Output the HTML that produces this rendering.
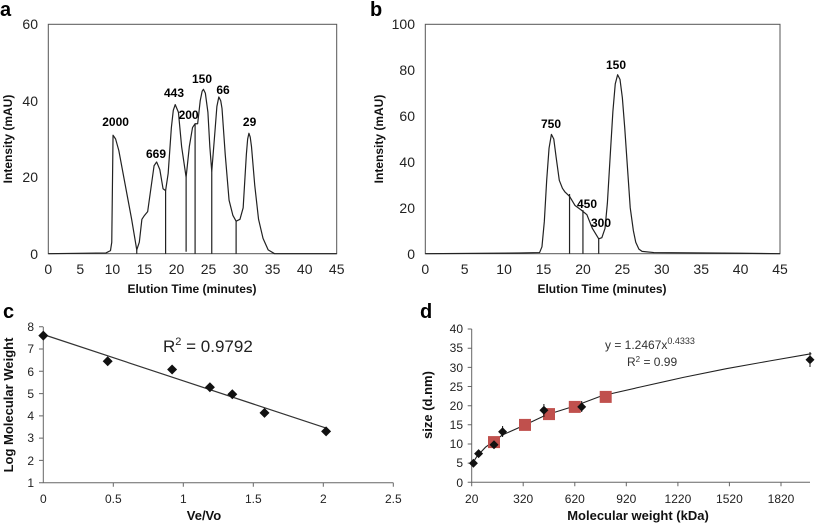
<!DOCTYPE html>
<html><head><meta charset="utf-8"><style>
body{margin:0;background:#fff}
svg{display:block;font-family:"Liberation Sans",sans-serif}
.t{font-size:14px;fill:#222}
.s{font-size:12px;fill:#222}
.b{font-weight:bold;font-size:12px;fill:#111}
.p{font-weight:bold;font-size:12px;fill:#000}
.L{font-weight:bold;font-size:20px;fill:#000}
.ns{vector-effect:non-scaling-stroke}
</style></head><body>
<svg width="817" height="524" viewBox="0 0 817 524">
<!-- Panel a -->
<text x="0" y="16" class="L">a</text>
<rect x="48.3" y="24.3" width="288.4" height="229.4" fill="none" stroke="#555" stroke-width="1"/>
<g class="t" text-anchor="end">
<text x="38" y="29">60</text><text x="38" y="106">40</text><text x="38" y="182">20</text><text x="38" y="259">0</text></g>
<g class="t" text-anchor="middle">
<text x="48.3" y="274">0</text><text x="80.3" y="274">5</text><text x="112.4" y="274">10</text><text x="144.4" y="274">15</text><text x="176.5" y="274">20</text><text x="208.5" y="274">25</text><text x="240.6" y="274">30</text><text x="272.6" y="274">35</text><text x="304.7" y="274">40</text><text x="336.7" y="274">45</text></g>
<text x="192" y="293" class="b" text-anchor="middle">Elution Time (minutes)</text>
<text transform="translate(12,139) rotate(-90)" class="b" text-anchor="middle">Intensity (mAU)</text>
<g transform="translate(48.3,253.7) scale(6.41,-3.823)" fill="none" stroke="#222" stroke-linejoin="round">
<polyline class="ns" stroke-width="1.2" points="0,0 9,0.2 9.7,0.8 9.9,3 10.1,31 10.5,30 11,27 12,18 13,9 13.8,1 14.2,3 14.6,9 15,10 15.5,11 16,17 16.5,23 16.9,24 17.4,22 17.9,17 18.3,16.5 18.7,21 19.2,33 19.5,37.5 19.8,39 20.3,37 20.8,28 21.5,20 22,28 22.5,33 22.9,34 23.3,34 23.7,40 24,42.5 24.2,43 24.5,42 24.9,37 25.2,28 25.5,21.5 26,32 26.3,38.5 26.6,41 26.9,40 27.1,38 27.6,26 28.2,14 28.8,10 29.3,8.5 29.9,9 30.4,12 30.9,26 31.1,30 31.3,31.5 31.5,30.5 31.7,28 32.2,18 32.8,9 33.5,4 34.3,1 35.3,0 45,0"/>
<path class="ns" stroke-width="1.2" d="M13.8,0V1M18.3,0V16.5M21.5,0.5V20M22.9,0V34M25.5,0V21.5M29.3,0V8.5"/>
</g>
<g class="p" text-anchor="middle">
<text x="115.6" y="126">2000</text><text x="156" y="158">669</text><text x="174" y="97">443</text><text x="188.6" y="119">200</text><text x="202" y="83">150</text><text x="223" y="94">66</text><text x="249.6" y="126">29</text></g>

<!-- Panel b -->
<text x="370" y="16" class="L">b</text>
<rect x="425.3" y="24.3" width="354.7" height="229.4" fill="none" stroke="#555" stroke-width="1"/>
<g class="t" text-anchor="end">
<text x="415" y="29">100</text><text x="415" y="75">80</text><text x="415" y="121">60</text><text x="415" y="167">40</text><text x="415" y="213">20</text><text x="415" y="259">0</text></g>
<g class="t" text-anchor="middle">
<text x="425.3" y="274">0</text><text x="464.7" y="274">5</text><text x="504.1" y="274">10</text><text x="543.5" y="274">15</text><text x="583" y="274">20</text><text x="622.4" y="274">25</text><text x="661.8" y="274">30</text><text x="701.2" y="274">35</text><text x="740.6" y="274">40</text><text x="780" y="274">45</text></g>
<text x="602" y="293" class="b" text-anchor="middle">Elution Time (minutes)</text>
<text transform="translate(383,139) rotate(-90)" class="b" text-anchor="middle">Intensity (mAU)</text>
<g transform="translate(425.3,253.7) scale(7.882,-2.294)" fill="none" stroke="#222" stroke-linejoin="round">
<polyline class="ns" stroke-width="1.2" points="0,0 12,0.3 14.5,0.5 14.8,3 15.1,14 15.4,32 15.7,46 16,52 16.3,50 16.6,42 17,32 17.4,28.5 17.7,27 18.3,25 19,21 19.8,19 20.5,17 21.2,11 22,6.5 22.4,7 22.8,11 23.1,22 23.5,45 23.8,62 24.1,74 24.4,78 24.7,76 25,68 25.3,55 25.7,35 26,20 26.4,10 26.7,5 27.1,2 27.5,1 29,0.5 40,0.2 45,0"/>
<path class="ns" stroke-width="1.2" d="M18.3,0V26M20,0V19M22,0V6.5"/>
</g>
<g class="p" text-anchor="middle">
<text x="551" y="128">750</text><text x="616" y="69">150</text><text x="587" y="208">450</text><text x="601" y="227">300</text></g>

<!-- Panel c -->
<text x="3" y="318" class="L">c</text>
<path d="M43.3,326.7V482.7H393.3" fill="none" stroke="#666" stroke-width="1"/>
<path d="M39,326.7h4M39,349h4M39,371.3h4M39,393.6h4M39,415.9h4M39,438.1h4M39,460.4h4M39,482.7h4M113.3,482.7v4M183.3,482.7v4M253.3,482.7v4M323.3,482.7v4M393.3,482.7v4" stroke="#666"/>
<g class="s" text-anchor="end">
<text x="34" y="331">8</text><text x="34" y="353">7</text><text x="34" y="376">6</text><text x="34" y="398">5</text><text x="34" y="420">4</text><text x="34" y="442">3</text><text x="34" y="465">2</text><text x="34" y="487">1</text></g>
<g class="s" text-anchor="middle">
<text x="43.3" y="503">0</text><text x="113.3" y="503">0.5</text><text x="183.3" y="503">1</text><text x="253.3" y="503">1.5</text><text x="323.3" y="503">2</text><text x="393.3" y="503">2.5</text></g>
<text x="204" y="520" class="b" text-anchor="middle" style="font-size:13px">Ve/Vo</text>
<text transform="translate(13,405) rotate(-90)" class="b" text-anchor="middle" style="font-size:13px">Log Molecular Weight</text>
<line x1="43.3" y1="334.5" x2="326.1" y2="428.1" stroke="#333" stroke-width="1.2"/>
<g fill="#111">
<path d="M43.3,330.6l5,5-5,5-5-5z"/><path d="M107.7,356.2l5,5-5,5-5-5z"/><path d="M172.1,364.5l5,5-5,5-5-5z"/><path d="M209.9,382.3l5,5-5,5-5-5z"/><path d="M232.3,389.2l5,5-5,5-5-5z"/><path d="M264.5,407.9l5,5-5,5-5-5z"/><path d="M326.1,426.4l5,5-5,5-5-5z"/></g>
<text x="163" y="352" style="font-size:17px;fill:#222">R<tspan dy="-7" style="font-size:11px">2</tspan><tspan dy="7"> = 0.9792</tspan></text>

<!-- Panel d -->
<text x="420" y="318" class="L">d</text>
<path d="M471.7,329V482.3H810" fill="none" stroke="#666" stroke-width="1"/>
<path d="M467.7,329h4M467.7,348.2h4M467.7,367.4h4M467.7,386.5h4M467.7,405.7h4M467.7,424.8h4M467.7,444h4M467.7,463.1h4M467.7,482.3h4M471.7,482.3v4M523.2,482.3v4M574.8,482.3v4M626.3,482.3v4M677.9,482.3v4M729.4,482.3v4M781,482.3v4" stroke="#666"/>
<g class="s" text-anchor="end">
<text x="463" y="333">40</text><text x="463" y="352">35</text><text x="463" y="372">30</text><text x="463" y="391">25</text><text x="463" y="410">20</text><text x="463" y="429">15</text><text x="463" y="448">10</text><text x="463" y="467">5</text><text x="463" y="487">0</text></g>
<g class="s" text-anchor="middle">
<text x="471.7" y="503">20</text><text x="523.2" y="503">320</text><text x="574.8" y="503">620</text><text x="626.3" y="503">920</text><text x="677.9" y="503">1220</text><text x="729.4" y="503">1520</text><text x="781" y="503">1820</text></g>
<text x="638" y="520" class="b" text-anchor="middle" style="font-size:13px">Molecular weight (kDa)</text>
<text transform="translate(432,405) rotate(-90)" class="b" text-anchor="middle" style="font-size:13px">size (d.nm)</text>
<polyline fill="none" stroke="#222" stroke-width="1.1" points="471.7,464.8 476.9,456.3 485.5,447.2 502.6,434.9 523.2,425.8 546.3,414.9 574.8,406 601.5,395.9 640.4,387 683.4,377.4 726.3,368.7 769.3,361 811.4,353.7"/>
<g fill="#c0504d">
<rect x="488" y="436.1" width="12" height="12"/><rect x="519" y="418.9" width="12" height="12"/><rect x="543" y="408.1" width="12" height="12"/><rect x="568.8" y="400.9" width="12" height="12"/><rect x="599.7" y="390.9" width="12" height="12"/></g>
<g fill="#111">
<path d="M473.4,458.7l4.5,4.5-4.5,4.5-4.5-4.5z"/><path d="M478.6,449.1l4.5,4.5-4.5,4.5-4.5-4.5z"/><path d="M494,440.3l4.5,4.5-4.5,4.5-4.5-4.5z"/><path d="M502.6,427.2l4.5,4.5-4.5,4.5-4.5-4.5z"/><path d="M543.9,405.8l4.5,4.5-4.5,4.5-4.5-4.5z"/><path d="M581.7,402.4l4.5,4.5-4.5,4.5-4.5-4.5z"/><path d="M810,355.2l4.5,4.5-4.5,4.5-4.5-4.5z"/></g>
<path d="M502.6,426v11M543.9,404v13M581.7,401v11M810,352v15" stroke="#111"/>
<text x="605" y="349" style="font-size:12px;fill:#333">y = 1.2467x<tspan dy="-5" style="font-size:9px">0.4333</tspan></text>
<text x="627" y="366" style="font-size:12px;fill:#333">R<tspan dy="-4" style="font-size:8px">2</tspan><tspan dy="4"> = 0.99</tspan></text>
</svg>
</body></html>
